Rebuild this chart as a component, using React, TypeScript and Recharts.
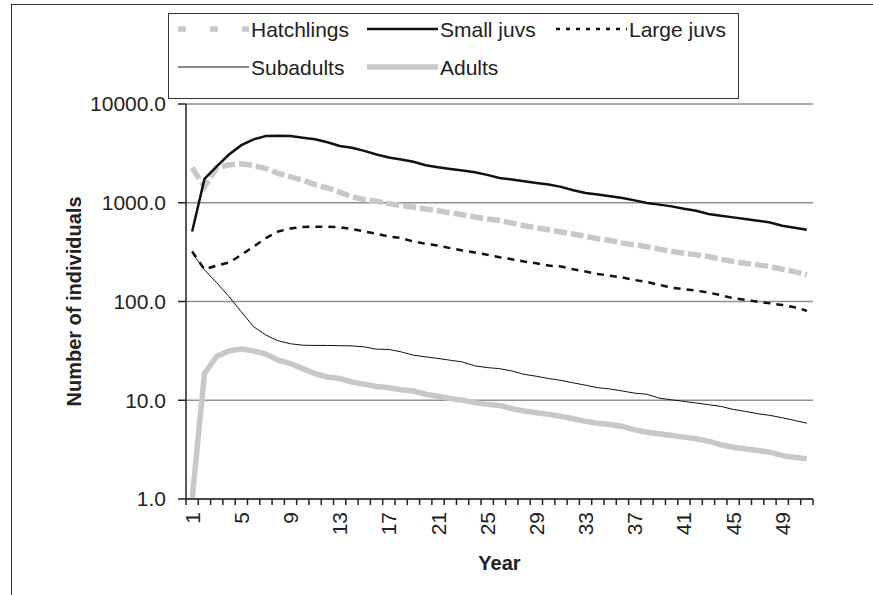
import {
  LineChart,
  Line,
  XAxis,
  YAxis,
  CartesianGrid,
} from "recharts";

const YEARS = [
  1, 2, 3, 4, 5, 6, 7, 8, 9, 10, 11, 12, 13, 14, 15, 16, 17, 18, 19, 20, 21,
  22, 23, 24, 25, 26, 27, 28, 29, 30, 31, 32, 33, 34, 35, 36, 37, 38, 39, 40,
  41, 42, 43, 44, 45, 46, 47, 48, 49, 50, 51,
];

const HATCHLINGS = [
  2260, 1450, 2260, 2420, 2480, 2380, 2220, 1980, 1830, 1690, 1530, 1410, 1280,
  1150, 1075, 1035, 980, 935, 905, 865, 830, 790, 757, 718, 685, 662, 622, 585,
  558, 533, 505, 482, 456, 432, 415, 390, 375, 358, 339, 321, 308, 297, 285,
  268, 254, 244, 235, 226, 212, 201, 186,
];

const SMALL_JUVS = [
  512, 1740, 2340, 3080, 3830, 4380, 4730, 4770, 4730, 4560, 4400, 4100, 3750,
  3600, 3350, 3080, 2870, 2740, 2600, 2400, 2290, 2200, 2120, 2040, 1915, 1785,
  1718, 1652, 1589, 1528, 1448, 1337, 1257, 1209, 1162, 1118, 1057, 995, 957,
  919, 871, 831, 769, 739, 711, 684, 658, 632, 585, 558, 533,
];

const LARGE_JUVS = [
  321, 212, 231, 248, 297, 360, 439, 512, 549, 568, 572, 572, 565, 541, 512,
  485, 456, 439, 405, 384, 369, 347, 328, 313, 297, 281, 268, 254, 244, 231,
  226, 212, 201, 190, 182, 175, 165, 158, 147, 138, 133, 129, 123, 116, 108,
  104, 99.5, 95.9, 92.2, 87.3, 80.7,
];

const SUBADULTS = [
  310, 209, 155, 112, 78.7, 55.5, 45.7, 40, 37.3, 36.1, 35.9, 35.9, 35.7, 35.5,
  34.7, 32.9, 32.7, 30.9, 28.6, 27.5, 26.5, 25.4, 24.4, 22.3, 21.4, 20.9, 19.8,
  18.3, 17.5, 16.6, 15.9, 15.0, 14.2, 13.4, 13.0, 12.4, 11.8, 11.5, 10.5, 10.1,
  9.75, 9.37, 9.02, 8.67, 8.08, 7.71, 7.31, 7.03, 6.65, 6.25, 5.86,
];

const ADULTS = [
  1.0, 18.6, 27.9, 31.6, 33.1, 31.6, 29.3, 25.4, 23.5, 20.9, 18.6, 17.2, 16.6,
  15.3, 14.5, 13.8, 13.4, 12.8, 12.4, 11.5, 11.0, 10.4, 9.98, 9.46, 9.08, 8.87,
  8.22, 7.77, 7.48, 7.19, 6.86, 6.5, 6.11, 5.86, 5.69, 5.43, 5.02, 4.75, 4.57,
  4.4, 4.23, 4.07, 3.85, 3.54, 3.34, 3.22, 3.1, 2.98, 2.75, 2.65, 2.55,
];

const Y_TICKS = [1, 10, 100, 1000, 10000];

const data = YEARS.map((year, i) => ({
  year,
  hatchlings: HATCHLINGS[i],
  smallJuvs: SMALL_JUVS[i],
  largeJuvs: LARGE_JUVS[i],
  subadults: SUBADULTS[i],
  adults: ADULTS[i],
}));

const SERIES = [
  { key: "hatchlings", name: "Hatchlings", stroke: "#c8c8c8", width: 5.5, dash: "13 4", legendDash: "8 24" },
  { key: "smallJuvs", name: "Small juvs", stroke: "#111", width: 2.5 },
  { key: "largeJuvs", name: "Large juvs", stroke: "#111", width: 2.5, dash: "7 6", legendDash: "4 6" },
  { key: "subadults", name: "Subadults", stroke: "#111", width: 1 },
  { key: "adults", name: "Adults", stroke: "#c8c8c8", width: 5.5 },
];

const FONT = '"Liberation Sans", Arial, sans-serif';
const INK = "#222";
const BAND = 12.3; // width of one year on the category axis
const LAST_YEAR = YEARS[YEARS.length - 1];

// Excel-style category ticks: marks between years, label on every 4th year
const YearTick = (props: any) => {
  const { x, y, payload } = props;
  const half = BAND / 2;
  const showLabel = (payload.value - 1) % 4 === 0;
  const ly = y + 13;
  return (
    <g>
      <line x1={x - half} x2={x - half} y1={y} y2={y + 6} stroke={INK} strokeWidth={1.5} />
      {payload.value === LAST_YEAR && (
        <line x1={x + half} x2={x + half} y1={y} y2={y + 6} stroke={INK} strokeWidth={1.5} />
      )}
      {showLabel && (
        <text
          x={x}
          y={ly}
          dy="0.36em"
          transform={`rotate(-90 ${x} ${ly})`}
          textAnchor="end"
          fontSize={21}
          fontFamily={FONT}
          fill={INK}
        >
          {payload.value}
        </text>
      )}
    </g>
  );
};

const ChartLegend = () => (
  <svg
    width={571}
    height={86}
    style={{ position: "absolute", left: 168, top: 13, overflow: "visible" }}
  >
    <rect x={0.5} y={0.5} width={570} height={85} fill="#fff" stroke="#333" />
    {SERIES.map((s, i) => {
      const x0 = 10 + (i % 3) * 189;
      const cy = 16 + Math.floor(i / 3) * 38;
      return (
        <g key={s.key}>
          <line
            x1={x0}
            x2={x0 + 71}
            y1={cy}
            y2={cy}
            stroke={s.stroke}
            strokeWidth={s.width}
            strokeDasharray={s.legendDash}
          />
          <text x={x0 + 73} y={cy} dy="0.36em" fontSize={21} fontFamily={FONT} fill={INK}>
            {s.name}
          </text>
        </g>
      );
    })}
  </svg>
);

export default function App() {
  return (
    <div
      style={{
        position: "absolute",
        left: 0,
        top: 0,
        width: 873,
        height: 595,
        background: "#fff",
        fontFamily: FONT,
      }}
    >
      {/* chart area frame, only top and left edges are in view */}
      <div
        style={{
          position: "absolute",
          left: 11,
          top: 4,
          right: 0,
          bottom: 0,
          borderTop: "1.5px solid #333",
          borderLeft: "1.5px solid #333",
        }}
      />

      <LineChart
        width={873}
        height={595}
        data={data}
        margin={{ top: 104, right: 60, bottom: 26, left: 86 }}
        style={{ position: "absolute", left: 0, top: 0 }}
      >
        <CartesianGrid vertical={false} stroke="#919191" strokeWidth={1.5} yAxisId="count" />
        <XAxis
          dataKey="year"
          interval={0}
          padding={{ left: BAND / 2, right: BAND / 2 }}
          height={70}
          tickSize={0}
          tickMargin={0}
          tickLine={false}
          tick={<YearTick />}
          axisLine={{ stroke: INK, strokeWidth: 1.5 }}
          label={{
            content: ({ viewBox }: any) => (
              <text
                x={viewBox.x + viewBox.width / 2}
                y={viewBox.y + 71}
                textAnchor="middle"
                fontSize={20}
                fontWeight="bold"
                fontFamily={FONT}
                fill={INK}
              >
                Year
              </text>
            ),
          }}
        />
        <XAxis
          xAxisId="frame"
          dataKey="year"
          orientation="top"
          height={0}
          tick={false}
          tickLine={false}
          axisLine={{ stroke: INK, strokeWidth: 1.5 }}
        />
        <YAxis
          yAxisId="count"
          scale="log"
          domain={[1, 10000]}
          ticks={Y_TICKS}
          allowDataOverflow
          width={100}
          tickSize={8}
          tickMargin={12}
          tickFormatter={(v) => Number(v).toFixed(1)}
          tick={{ fill: INK, fontSize: 21, fontFamily: FONT }}
          tickLine={{ stroke: INK, strokeWidth: 1.5 }}
          axisLine={{ stroke: INK, strokeWidth: 1.5 }}
          label={{
            content: ({ viewBox }: any) => {
              const lx = viewBox.x - 12;
              const ly = viewBox.y + viewBox.height / 2;
              return (
                <text
                  x={lx}
                  y={ly}
                  dy="0.36em"
                  transform={`rotate(-90 ${lx} ${ly})`}
                  textAnchor="middle"
                  fontSize={20}
                  fontWeight="bold"
                  fontFamily={FONT}
                  fill={INK}
                >
                  Number of individuals
                </text>
              );
            },
          }}
        />
        <YAxis
          yAxisId="frame"
          orientation="right"
          type="number"
          domain={[0, 1]}
          width={0}
          tick={false}
          tickLine={false}
          axisLine={{ stroke: INK, strokeWidth: 1.5 }}
        />
        {SERIES.map((s) => (
          <Line
            key={s.key}
            yAxisId="count"
            type="linear"
            dataKey={s.key}
            name={s.name}
            stroke={s.stroke}
            strokeWidth={s.width}
            strokeDasharray={s.dash}
            dot={false}
            activeDot={false}
            isAnimationActive={false}
          />
        ))}
      </LineChart>

      <ChartLegend />
    </div>
  );
}
